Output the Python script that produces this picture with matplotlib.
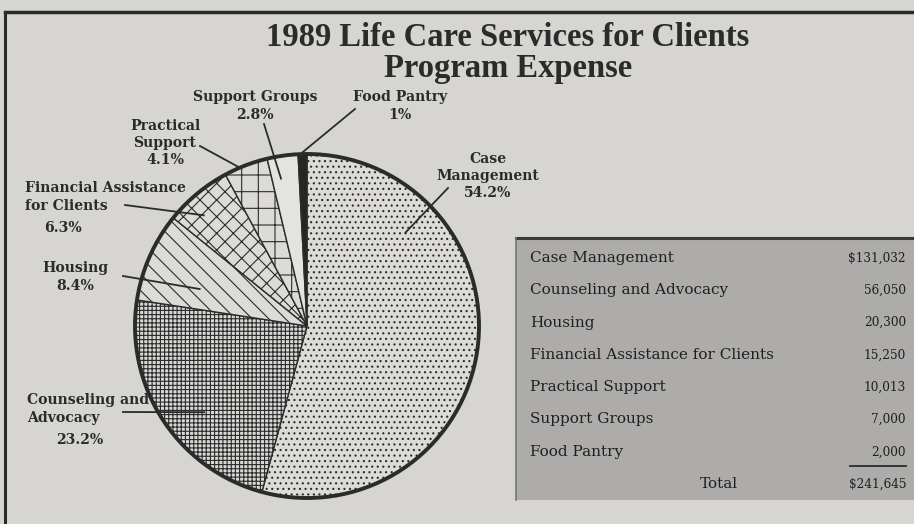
import numpy as np
import matplotlib

matplotlib.use("Agg")
import matplotlib.pyplot as plt
from matplotlib.patches import Circle, Rectangle

# --- data -------------------------------------------------------------
programs = ["Case Management", "Counseling and Advocacy", "Housing",
            "Financial Assistance for Clients", "Practical Support",
            "Support Groups", "Food Pantry"]
amounts = [131032, 56050, 20300, 15250, 10013, 7000, 2000]
amount_labels = ["$131,032", "56,050", "20,300", "15,250", "10,013",
                 "7,000", "2,000"]
total_label = "$241,645"
pie_labels = ["Case\nManagement\n54.2%", "Counseling and\nAdvocacy\n23.2%",
              "Housing\n8.4%", "Financial Assistance\nfor Clients\n6.3%",
              "Practical\nSupport\n4.1%", "Support Groups\n2.8%",
              "Food Pantry\n1%"]

# --- styling ----------------------------------------------------------
W, H = 914, 524
PAGE = "#d6d5d2"
INK = "#2b2b2b"
SERIF = ["DejaVu Serif"]
TITLE_FONT = ["Liberation Serif", "DejaVu Serif"]
LFS = 10.1  # pie label size
TFS = 11.0  # table text size

hatches = ["...", "++++", "\\\\", "xx", "+", "", ""]
faces = ["#dcdbd8", "#d9d8d5", "#dcdbd8", "#dcdbd8", "#dcdbd8", "#e4e3e0", "#262626"]

# label layout: (text x, text y, ha, leader start, tip angle deg, tip radius frac)
label_pos = [
    (488, 176, "center", (448, 188), 43.5, 0.79),
    (27, 409, "left", (123, 412), 220, 0.78),
    (75, 277, "center", (123, 276), 161, 0.66),
    (25, 197, "left", (125, 205), 133, 0.88),
    (165, 143, "center", (200, 146), 113, 1.0),
    (255, 106, "center", (264, 124), 100, 0.87),
    (400, 106, "center", (355, 109), 91.5, 1.01),
]

plt.rcParams["hatch.linewidth"] = 0.8
plt.rcParams["hatch.color"] = INK


def Y(y):
    return H - y


fig = plt.figure(figsize=(W / 100, H / 100), dpi=100, facecolor=PAGE)
ax = fig.add_axes([0, 0, 1, 1])
ax.axis("off")

# outer frame
ax.plot([5, W], [Y(12), Y(12)], color=INK, lw=2.5)
ax.plot([5, 5], [Y(12), 0], color=INK, lw=2.2)

ax.text(508, Y(37), "1989 Life Care Services for Clients", ha="center",
        va="center", fontsize=23.5, fontweight="bold", family=TITLE_FONT,
        color=INK)
ax.text(508, Y(69), "Program Expense", ha="center", va="center",
        fontsize=23.5, fontweight="bold", family=TITLE_FONT, color=INK)

# pie
cx, cy, r = 307, Y(326), 172
wedges, _ = ax.pie(amounts, center=(cx, cy), radius=r, startangle=90,
                   counterclock=False, colors=faces,
                   wedgeprops=dict(edgecolor=INK, linewidth=1.0))
for w, h in zip(wedges, hatches):
    w.set_hatch(h)
ax.add_patch(Circle((cx, cy), r, fill=False, edgecolor=INK, lw=2.8, zorder=3))
ax.set_xlim(0, W)
ax.set_ylim(0, H)
ax.set_aspect("auto")

txt = dict(fontsize=LFS, fontweight="bold", family=SERIF, color=INK,
           linespacing=1.3)
for lab, (tx, ty, ha, start, ang, rf) in zip(pie_labels, label_pos):
    if lab.startswith(("Financial", "Counseling")):
        a, b, c = lab.split("\n")
        ax.text(tx, Y(ty), a + "\n" + b, ha="left", va="center", **txt)
        px = 63 if a.startswith("Fin") else 80
        ax.text(px, Y(ty + 31), c, ha="center", va="center", **txt)
    else:
        ax.text(tx, Y(ty), lab, ha=ha, va="center", multialignment="center",
                **txt)
    t = np.radians(ang)
    tip = (cx + rf * r * np.cos(t), cy + rf * r * np.sin(t))
    ax.plot([start[0], tip[0]], [Y(start[1]), tip[1]], color=INK, lw=1.3,
            zorder=4)

# table box
box_l, box_t, box_b = 516, 238, 500
ax.add_patch(Rectangle((box_l, Y(box_b)), W - box_l, box_b - box_t,
                       facecolor="#adacaa", edgecolor="none", zorder=1))
ax.plot([box_l, W], [Y(box_t), Y(box_t)], color="#3a3a3a", lw=2.2)
ax.plot([box_l, box_l], [Y(box_t), Y(box_b)], color="#777", lw=1.2)

TINK = "#1f1f1f"
row0, dy = 258, 32.3
for i, (name, val) in enumerate(zip(programs, amount_labels)):
    yy = Y(row0 + i * dy)
    ax.text(530, yy, name, ha="left", va="center", fontsize=TFS,
            family=SERIF, color=TINK)
    ax.text(906, yy, val, ha="right", va="center", fontsize=TFS - 2.3,
            family=SERIF, color=TINK)
ylast = row0 + len(programs) * dy
ax.plot([850, 906], [Y(ylast - 18), Y(ylast - 18)], color=INK, lw=1.3)
ax.text(738, Y(ylast), "Total", ha="right", va="center", fontsize=TFS,
        family=SERIF, color=TINK)
ax.text(906, Y(ylast), total_label, ha="right", va="center",
        fontsize=TFS - 2.3, family=SERIF, color=TINK)

fig.savefig("out.png", dpi=100, facecolor=PAGE)
